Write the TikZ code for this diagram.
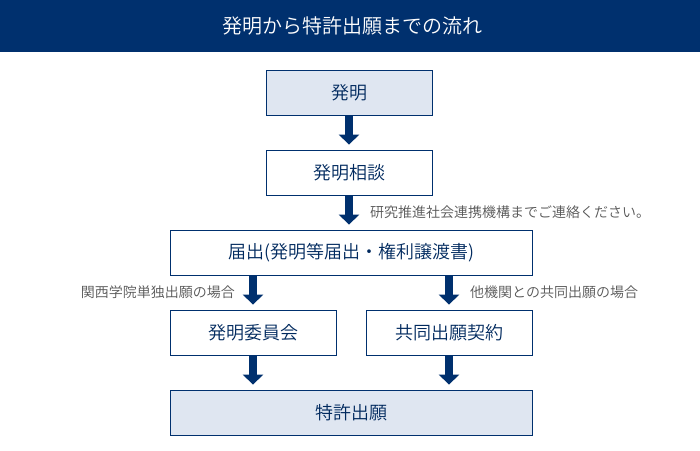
\documentclass[tikz,border=0pt]{standalone}
\usepackage{fontspec}
\setmainfont{Noto Sans CJK JP}[UprightFont=* DemiLight]
\usetikzlibrary{arrows.meta,positioning}
\definecolor{navy}{HTML}{00306E}
\definecolor{paleblue}{HTML}{DFE6F1}
\definecolor{notegray}{HTML}{555555}

\begin{document}
\begin{tikzpicture}[x=1pt,y=-1pt,
    box/.style={draw=navy,line width=0.8pt,text=navy!85!black,font=\fontsize{18}{21}\selectfont,
      minimum height=45pt,inner sep=0pt},
    wide/.style={box,minimum width=362pt},
    narrow/.style={box,minimum width=166pt},
    note/.style={text=notegray,font=\fontsize{14}{16}\selectfont,inner sep=0pt},
    flow/.style={navy,line width=8pt,-{Triangle[width=20pt,length=10pt]},shorten >=5pt}]
    \useasboundingbox (0,0) rectangle (700,450);
    % header band
    \fill[navy] (0,0) rectangle (700,52);
    \node[text=white,font=\fontsize{20}{24}\selectfont] (title) at (352,26) {発明から特許出願までの流れ};
    % boxes, from the top down
    \node[narrow,fill=paleblue] (hatsumei) at (349,92.5) {発明};
    \node[narrow] (soudan) at (349,172.5) {発明相談};
    \node[wide] (todokede) at (351,252.5) {届出(発明等届出・権利譲渡書)};
    \node[narrow] (iinkai) at (253,332.5) {発明委員会};
    \node[narrow] (keiyaku) at (449,332.5) {共同出願契約};
    \node[wide,fill=paleblue] (shutsugan) at (351,412.5) {特許出願};
    % arrows
    \draw[flow] (hatsumei) -- (soudan);
    \draw[flow] (soudan) -- (soudan.south |- todokede.north);
    \draw[flow] (todokede.south -| iinkai) -- (iinkai);
    \draw[flow] (todokede.south -| keiyaku) -- (keiyaku);
    \draw[flow] (iinkai) -- (iinkai.south |- shutsugan.north);
    \draw[flow] (keiyaku) -- (keiyaku.south |- shutsugan.north);
    % notes beside the arrows
    \node[note,anchor=west] (renraku) at (370,212) {研究推進社会連携機構までご連絡ください。};
    \node[note,anchor=east] (tandoku) at (235,292) {関西学院単独出願の場合};
    \node[note,anchor=west] (kyoudou) at (470,292) {他機関との共同出願の場合};
\end{tikzpicture}
\end{document}
